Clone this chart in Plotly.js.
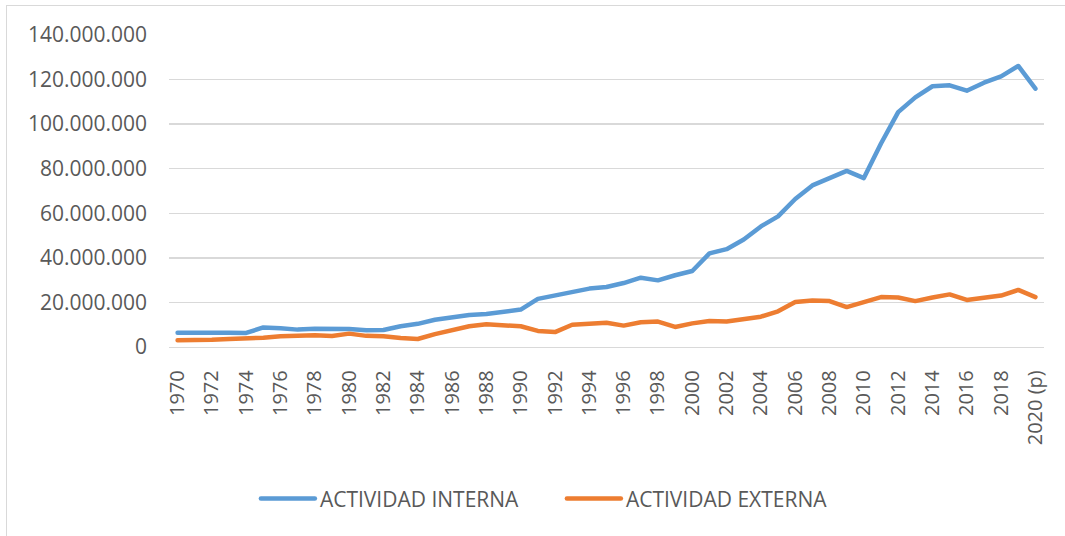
<!DOCTYPE html>
<html>
<head>
<meta charset="utf-8">
<script src="https://cdn.plot.ly/plotly-3.0.1.min.js"></script>
<style>
  html, body { margin: 0; padding: 0; background: #fff; }
  #wrap { position: relative; width: 1065px; height: 536px; overflow: hidden; }
  #chart { width: 1065px; height: 536px; }
  #frame { position: absolute; left: 6px; top: 5px; width: 1100px; height: 600px;
           border-left: 1.5px solid #d9d9d9; border-top: 1.5px solid #d9d9d9; pointer-events: none; }
  .scatterlayer .js-line { stroke-linejoin: round; stroke-linecap: round; }
  .legend .legendlines path { stroke-linecap: round; }
</style>
</head>
<body>
<div id="wrap">
  <div id="chart"></div>
  <div id="frame"></div>
</div>
<script>
const years = ["1970","1971","1972","1973","1974","1975","1976","1977","1978","1979",
  "1980","1981","1982","1983","1984","1985","1986","1987","1988","1989",
  "1990","1991","1992","1993","1994","1995","1996","1997","1998","1999",
  "2000","2001","2002","2003","2004","2005","2006","2007","2008","2009",
  "2010","2011","2012","2013","2014","2015","2016","2017","2018","2019","2020 (p)"];

const actividadInterna = [6400000,6500000,6500000,6400000,6300000,8800000,8400000,7800000,8200000,8200000,
  8100000,7500000,7600000,9300000,10400000,12200000,13300000,14400000,14800000,16000000,
  16800000,21600000,23200000,25000000,26200000,26900000,28700000,31100000,29900000,32200000,
  34100000,42000000,43900000,48200000,54100000,58600000,66400000,72500000,75800000,79000000,
  75800000,91300000,105400000,112000000,117000000,117400000,115000000,118600000,121400000,126100000,115900000];

const actividadExterna = [3000000,3000000,3200000,3600000,3800000,4200000,4800000,5100000,5300000,4900000,
  6000000,5000000,4800000,4000000,3600000,5800000,7300000,9300000,10200000,9900000,
  9300000,7200000,6700000,10000000,10600000,10900000,9600000,11100000,11400000,9000000,
  10600000,11700000,11400000,12600000,13600000,16000000,20200000,20900000,20600000,17900000,
  20200000,22400000,22200000,20600000,22200000,23600000,21100000,22200000,23100000,25600000,22400000];

const seriesNames = ["ACTIVIDAD INTERNA", "ACTIVIDAD EXTERNA"];
const yTicks = [0,20000000,40000000,60000000,80000000,100000000,120000000,140000000];

const traces = [
  { x: years, y: actividadInterna, name: seriesNames[0], type: "scatter", mode: "lines",
    line: { color: "#5B9BD5", width: 4.5 } },
  { x: years, y: actividadExterna, name: seriesNames[1], type: "scatter", mode: "lines",
    line: { color: "#ED7D31", width: 4.5 } }
];

const layout = {
  width: 1065, height: 536,
  margin: { l: 168.5, r: 21.4, t: 34.7, b: 189.3, pad: 0 },
  paper_bgcolor: "#ffffff", plot_bgcolor: "#ffffff",
  separators: ",.",
  font: { family: "Open Sans, sans-serif", size: 21, color: "#595959" },
  showlegend: true,
  legend: {
    orientation: "h", x: 0.0993, xanchor: "left", y: -0.421, yanchor: "top",
    itemwidth: 54, entrywidth: 237, entrywidthmode: "pixels",
    font: { family: "Open Sans, sans-serif", size: 21, color: "#595959" },
    bgcolor: "rgba(0,0,0,0)"
  },
  xaxis: {
    type: "category", range: [-0.5, 50.5], tickmode: "linear", tick0: 0, dtick: 2,
    tickangle: -90, showgrid: false, showline: true, linecolor: "#d9d9d9", linewidth: 1.3,
    ticks: "", ticklabelstandoff: 14, zeroline: false,
    tickfont: { family: "Open Sans, sans-serif", size: 20, color: "#595959" }
  },
  yaxis: {
    range: [0, 140000000], tickvals: yTicks, tickformat: ",d",
    showgrid: true, gridcolor: "#d9d9d9", gridwidth: 1.3, zeroline: false, showline: false,
    ticks: "", ticklabelstandoff: 21,
    tickfont: { family: "Open Sans, sans-serif", size: 21, color: "#595959" }
  }
};

Plotly.newPlot("chart", traces, layout, { displayModeBar: false, staticPlot: true });
</script>
</body>
</html>
